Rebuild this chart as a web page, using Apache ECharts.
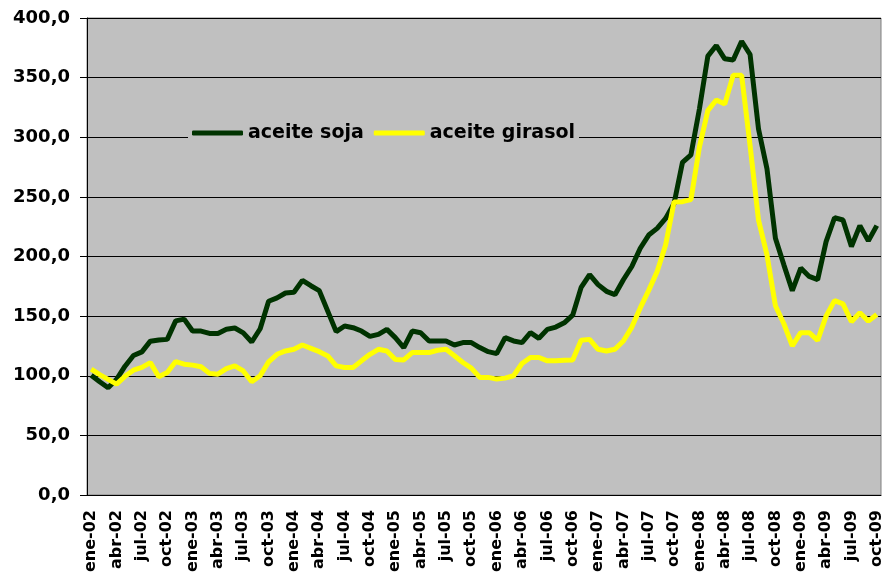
<!DOCTYPE html>
<html lang="es">
  <head>
    <meta charset="UTF-8" />
    <title>aceite soja / aceite girasol</title>
    <style>
      * {
        margin: 0;
        padding: 0;
      }
      body {
        background: #fff;
      }
      #main {
        width: 888px;
        height: 575px;
      }
    </style>
  </head>

  <body>
    <div id="main"></div>
  </body>

  <script src="https://cdn.jsdelivr.net/npm/echarts@6/dist/echarts.min.js"></script>
  <script>
    // meses (ene-02 .. oct-09)
    let meses = [
      "ene-02", "feb-02", "mar-02", "abr-02", "may-02", "jun-02", "jul-02", "ago-02", "sep-02", "oct-02", "nov-02", "dic-02",
      "ene-03", "feb-03", "mar-03", "abr-03", "may-03", "jun-03", "jul-03", "ago-03", "sep-03", "oct-03", "nov-03", "dic-03",
      "ene-04", "feb-04", "mar-04", "abr-04", "may-04", "jun-04", "jul-04", "ago-04", "sep-04", "oct-04", "nov-04", "dic-04",
      "ene-05", "feb-05", "mar-05", "abr-05", "may-05", "jun-05", "jul-05", "ago-05", "sep-05", "oct-05", "nov-05", "dic-05",
      "ene-06", "feb-06", "mar-06", "abr-06", "may-06", "jun-06", "jul-06", "ago-06", "sep-06", "oct-06", "nov-06", "dic-06",
      "ene-07", "feb-07", "mar-07", "abr-07", "may-07", "jun-07", "jul-07", "ago-07", "sep-07", "oct-07", "nov-07", "dic-07",
      "ene-08", "feb-08", "mar-08", "abr-08", "may-08", "jun-08", "jul-08", "ago-08", "sep-08", "oct-08", "nov-08", "dic-08",
      "ene-09", "feb-09", "mar-09", "abr-09", "may-09", "jun-09", "jul-09", "ago-09", "sep-09", "oct-09",
    ];

    // aceite soja
    let soja = [
      100.5, 95, 90, 97, 108, 117, 120, 129, 130, 130.5, 146, 147.5,
      137.5, 137.5, 135.5, 135.5, 139, 140, 136, 128.3, 139.4, 162.5, 165.3, 169.4,
      170, 180, 175.5, 171.4, 154.2, 137, 141.7, 140.3, 137.5, 133, 134.7, 138.9,
      132, 123.6, 137.5, 136.1, 129.2, 129.2, 129.2, 125.8, 127.8, 127.8, 123.6, 120.2,
      118.6, 131.9, 129.2, 127.8, 136.1, 131.4, 138.9, 140.8, 144.4, 150.8, 174.1, 184.7,
      176.4, 170.8, 168, 180.5, 191.6, 206.9, 218, 223.6, 231.9, 244.4, 279, 285.3,
      323.6, 368, 376.9, 365.8, 364.7, 380.5, 369.4, 306.9, 273.6, 215.3, 193, 171.4,
      190.3, 183.3, 180.6, 212.5, 232.5, 230.6, 208.4, 225.9, 213.1, 225.9,
    ];

    // aceite girasol
    let girasol = [
      105.5, 101, 97, 93, 99.5, 104.7, 107, 111, 99.2, 102.7, 111.9, 109.7,
      108.9, 107.5, 102, 101.3, 106, 108.3, 104, 95, 100, 111.6, 118, 120.8,
      122.2, 125.8, 123, 120.2, 116.6, 108.3, 106.9, 106.9, 112.5, 118, 122.2, 120.8,
      113.6, 113.3, 119.4, 119.4, 119.4, 121.4, 122.2, 116.7, 111.1, 106.4, 98.6, 98.6,
      97.2, 98, 100, 110.3, 115.3, 115.3, 112.5, 112.5, 113, 113.3, 129.7, 130.5,
      122.2, 120.8, 122.2, 129.2, 140.8, 156.9, 171.6, 187.5, 209.7, 245.8, 246, 247.7,
      291.7, 322.3, 331.2, 327.8, 352, 352, 293, 230.5, 201.4, 158.7, 143.6, 125,
      136.1, 136.1, 129.7, 150, 163, 160.3, 145.3, 152.8, 145.8, 151.4,
    ];

    let fuente = "DejaVu Sans";

    var myChart = echarts.init(document.getElementById("main"));

    let option = {
      backgroundColor: "#ffffff",
      animation: false,
      grid: {
        left: 87,
        right: 7,
        top: 18,
        bottom: 77,
        show: true,
        backgroundColor: "#c0c0c0",
        borderColor: "#808080",
        borderWidth: 1,
      },
      legend: {
        left: 188,
        top: 120,
        padding: [3, 4, 3, 4],
        backgroundColor: "#c0c0c0",
        itemWidth: 51,
        itemHeight: 5,
        itemGap: 10,
        icon: "roundRect",
        textStyle: {
          fontFamily: fuente,
          fontWeight: "bold",
          fontSize: 19,
          color: "#000",
          lineHeight: 20,
        },
        data: ["aceite soja", "aceite girasol"],
      },
      xAxis: {
        type: "category",
        data: meses,
        boundaryGap: true,
        axisLine: { lineStyle: { color: "#000", width: 1 } },
        axisTick: { interval: 2, length: 5, lineStyle: { color: "#000" } },
        axisLabel: {
          interval: 2,
          rotate: 90,
          margin: 15,
          fontFamily: fuente,
          fontWeight: "bold",
          fontSize: 16,
          color: "#000",
        },
        splitLine: { show: false },
      },
      yAxis: {
        type: "value",
        min: 0,
        max: 400,
        interval: 50,
        axisLine: { show: true, lineStyle: { color: "#000", width: 1 } },
        axisTick: { show: true, length: 7, lineStyle: { color: "#000" } },
        axisLabel: {
          margin: 17,
          fontFamily: fuente,
          fontWeight: "bold",
          fontSize: 18,
          color: "#000",
          formatter: (v) => v.toFixed(1).replace(".", ","),
        },
        splitLine: { show: true, lineStyle: { color: "#000", width: 1 } },
      },
      series: [
        {
          name: "aceite soja",
          type: "line",
          data: soja,
          symbol: "none",
          color: "#003300",
          lineStyle: { color: "#003300", width: 5 },
        },
        {
          name: "aceite girasol",
          type: "line",
          data: girasol,
          symbol: "none",
          color: "#ffff00",
          lineStyle: { color: "#ffff00", width: 5 },
        },
      ],
    };

    myChart.setOption(option);
  </script>
</html>
